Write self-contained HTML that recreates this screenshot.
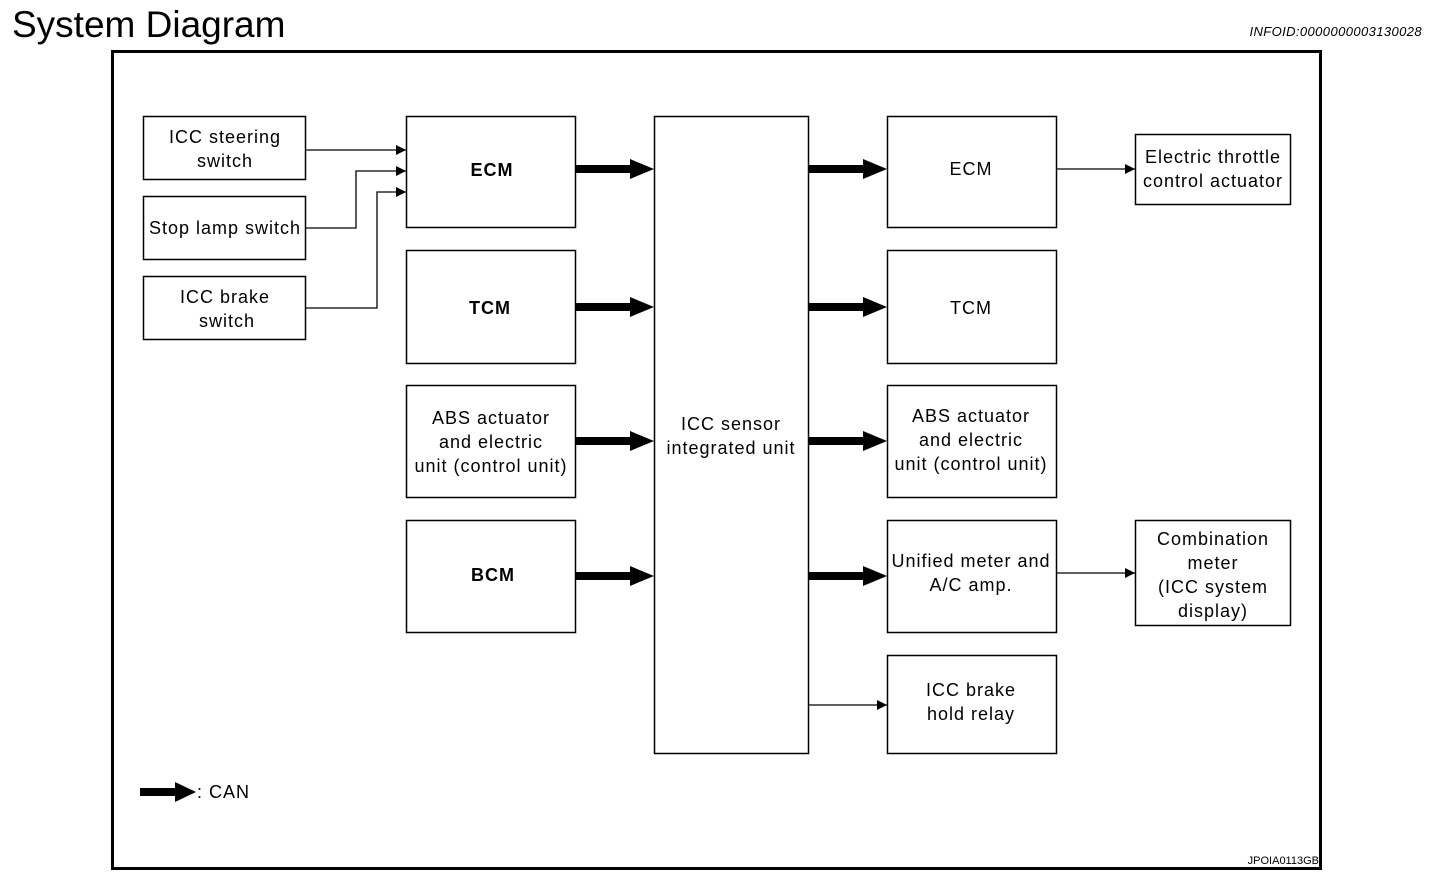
<!DOCTYPE html>
<html><head><meta charset="utf-8"><style>
html,body{margin:0;padding:0;background:#fff;}
svg{display:block;}
text{font-family:"Liberation Sans",sans-serif;fill:#000;}
</style></head><body>
<svg width="1456" height="884" viewBox="0 0 1456 884" xmlns="http://www.w3.org/2000/svg">
<defs>
<marker id="ah" markerWidth="10" markerHeight="10" refX="10" refY="5" orient="auto" markerUnits="userSpaceOnUse"><path d="M0,0 L10,5 L0,10 Z" fill="#000"/></marker>
</defs>
<text x="12" y="37" font-size="37">System Diagram</text>
<text x="1422" y="36" font-size="13" font-style="italic" letter-spacing="0.4" text-anchor="end">INFOID:0000000003130028</text>
<rect x="112.5" y="51.5" width="1208" height="817" fill="none" stroke="#000" stroke-width="3"/>
<g fill="none" stroke="#000" stroke-width="1.5">
<rect x="143.5" y="116.5" width="162" height="63"/>
<rect x="143.5" y="196.5" width="162" height="63"/>
<rect x="143.5" y="276.5" width="162" height="63"/>
<rect x="406.5" y="116.5" width="169" height="111"/>
<rect x="406.5" y="250.5" width="169" height="113"/>
<rect x="406.5" y="385.5" width="169" height="112"/>
<rect x="406.5" y="520.5" width="169" height="112"/>
<rect x="654.5" y="116.5" width="154" height="637"/>
<rect x="887.5" y="116.5" width="169" height="111"/>
<rect x="887.5" y="250.5" width="169" height="113"/>
<rect x="887.5" y="385.5" width="169" height="112"/>
<rect x="887.5" y="520.5" width="169" height="112"/>
<rect x="887.5" y="655.5" width="169" height="98"/>
<rect x="1135.5" y="134.5" width="155" height="70"/>
<rect x="1135.5" y="520.5" width="155" height="105"/>
</g>
<g fill="none" stroke="#000" stroke-width="1.3">
<path d="M306,150 H406" marker-end="url(#ah)"/>
<path d="M306,228 H356 V171 H406" marker-end="url(#ah)"/>
<path d="M306,308 H377 V192 H406" marker-end="url(#ah)"/>
<path d="M1057,169 H1135" marker-end="url(#ah)"/>
<path d="M1057,573 H1135" marker-end="url(#ah)"/>
<path d="M809,705 H887" marker-end="url(#ah)"/>
</g>
<g fill="#000">
<path d="M576,165 H630 V159 L654,169 L630,179 V173 H576 Z"/>
<path d="M576,303 H630 V297 L654,307 L630,317 V311 H576 Z"/>
<path d="M576,437 H630 V431 L654,441 L630,451 V445 H576 Z"/>
<path d="M576,572 H630 V566 L654,576 L630,586 V580 H576 Z"/>
<path d="M809,165 H863 V159 L887,169 L863,179 V173 H809 Z"/>
<path d="M809,303 H863 V297 L887,307 L863,317 V311 H809 Z"/>
<path d="M809,437 H863 V431 L887,441 L863,451 V445 H809 Z"/>
<path d="M809,572 H863 V566 L887,576 L863,586 V580 H809 Z"/>
<path d="M140,788 H175 V782 L196,792 L175,802 V796 H140 Z"/>
</g>
<g font-size="18" letter-spacing="1" text-anchor="middle">
<text x="225" y="143">ICC steering</text><text x="225" y="167">switch</text>
<text x="225" y="234">Stop lamp switch</text>
<text x="225" y="303">ICC brake</text><text x="227" y="327">switch</text>
<text x="492" y="176" font-weight="bold">ECM</text>
<text x="490" y="314" font-weight="bold">TCM</text>
<text x="491" y="424">ABS actuator</text><text x="491" y="448">and electric</text><text x="491" y="472">unit (control unit)</text>
<text x="493" y="581" font-weight="bold">BCM</text>
<text x="731" y="430">ICC sensor</text><text x="731" y="454">integrated unit</text>
<text x="971" y="175">ECM</text>
<text x="971" y="314">TCM</text>
<text x="971" y="422">ABS actuator</text><text x="971" y="446">and electric</text><text x="971" y="470">unit (control unit)</text>
<text x="971" y="567">Unified meter and</text><text x="971" y="591">A/C amp.</text>
<text x="971" y="696">ICC brake</text><text x="971" y="720">hold relay</text>
<text x="1213" y="163">Electric throttle</text><text x="1213" y="187">control actuator</text>
<text x="1213" y="545">Combination</text><text x="1213" y="569">meter</text><text x="1213" y="593">(ICC system</text><text x="1213" y="617">display)</text>
</g>
<text x="197" y="798" font-size="18" letter-spacing="1">: CAN</text>
<text x="1319" y="864" font-size="11" text-anchor="end">JPOIA0113GB</text>
</svg>
</body></html>
